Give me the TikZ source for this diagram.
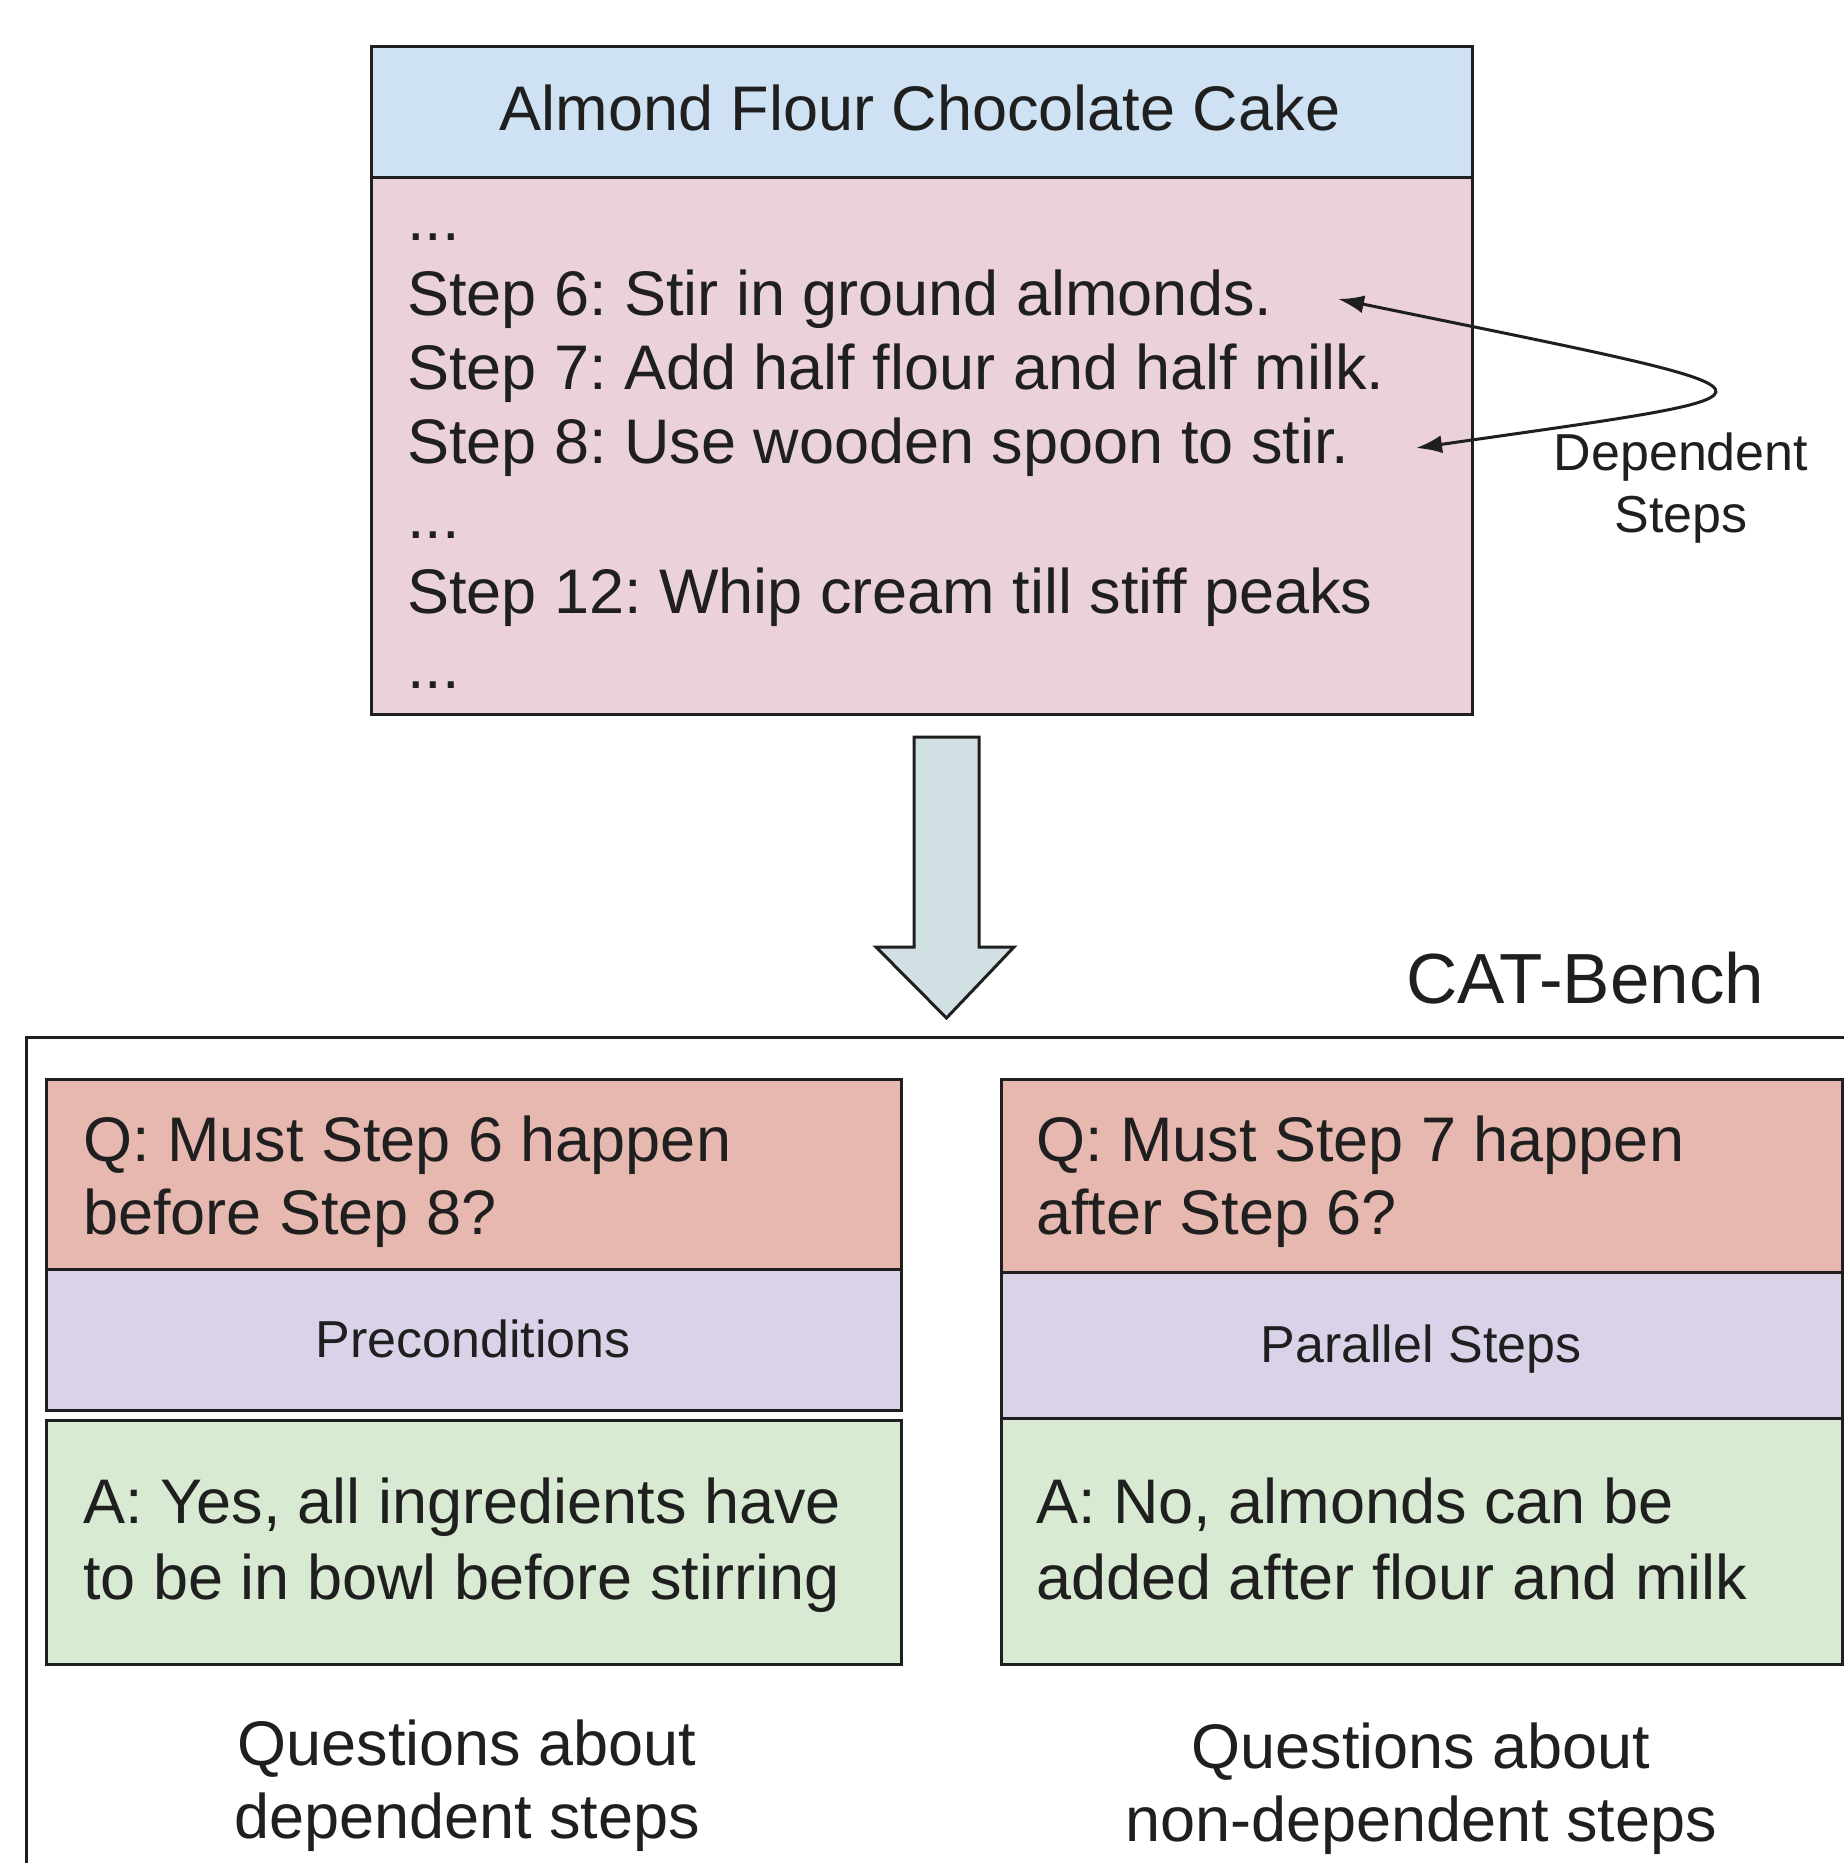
\documentclass[tikz,border=0pt]{standalone}
\usepackage{fontspec}
\setmainfont{Liberation Sans}
\usetikzlibrary{arrows.meta}
\frenchspacing
\definecolor{ink}{HTML}{1F1F1F}
\definecolor{headblue}{HTML}{CFE2F3}
\definecolor{bodypink}{HTML}{EAD1DC}
\definecolor{qred}{HTML}{E6B8AF}
\definecolor{pviolet}{HTML}{D9D2E9}
\definecolor{agreen}{HTML}{D9EAD3}
\definecolor{arrowfill}{HTML}{D0E0E3}
\begin{document}
\frenchspacing
\begin{tikzpicture}[x=1pt,y=-1pt,
  box/.style={draw=ink, line width=3pt, inner sep=0pt, anchor=north west, rectangle},
  txt/.style={anchor=base west, inner sep=0pt, text=ink, font=\fontsize{63}{75}\selectfont},
  ctxt/.style={txt, anchor=base},
  small/.style={anchor=base, inner sep=0pt, text=ink, font=\fontsize{52}{62}\selectfont},
  >={Latex[length=26pt,width=18pt]}]
\useasboundingbox (0,0) rectangle (1844,1863);
\clip (0,0) rectangle (1844,1863);
\fill[white] (0,0) rectangle (1844,1863);

% top recipe box
\node[box, fill=headblue, minimum width=1101pt, minimum height=131pt] (head) at (370,45) {};
\node[box, fill=bodypink, minimum width=1101pt, minimum height=537pt] (body) at (370,176) {};
\node[ctxt] (title) at (920,130) {Almond Flour Chocolate Cake};
\node[txt] (s0) at (407,240) {...};
\node[txt] (s6) at (407,315) {Step 6: Stir in ground almonds.};
\node[txt] (s7) at (407,389) {Step 7: Add half flour and half milk.};
\node[txt] (s8) at (407,463) {Step 8: Use wooden spoon to stir.};
\node[txt] (s9) at (407,538) {...};
\node[txt] (s12) at (407,613) {Step 12: Whip cream till stiff peaks};
\node[txt] (s13) at (407,688) {...};

% dependency curve
\coordinate (tipA) at (1338,299);
\coordinate (tipB) at (1416,448);
\draw[ink, line width=3pt, <->] (tipA) .. controls (1820,398) and (1820,390) .. (tipB);
\node[small] (dep1) at (1681,470) {Dependent};
\node[small] (dep2) at (1681,532) {Steps};

% big down arrow
\draw[ink, fill=arrowfill, line width=3pt, line join=miter]
  (914,737) -- (979,737) -- (979,947) -- (1014,947) -- (946.5,1018) -- (876,947) -- (914,947) -- cycle;

\node[anchor=base west, inner sep=0pt, text=ink, font=\fontsize{71}{85}\selectfont] (cat) at (1406,1003) {CAT-Bench};

% outer frame (open to the right and bottom)
\draw[ink, line width=3pt] (26,1920) -- (26,1037) -- (1920,1037);

% left panel
\node[box, fill=qred, minimum width=855pt, minimum height=190pt] (qL) at (45,1078) {};
\node[box, fill=pviolet, minimum width=855pt, minimum height=141pt] (pL) at (45,1268) {};
\node[box, fill=agreen, minimum width=855pt, minimum height=244pt] (aL) at (45,1419) {};
\node[txt] (qL1) at (83,1161) {Q: Must Step 6 happen};
\node[txt] (qL2) at (83,1234) {before Step 8?};
\node[small] (pLt) at (473,1357) {Preconditions};
\node[txt] (aL1) at (83,1523) {A: Yes, all ingredients have};
\node[txt] (aL2) at (83,1599) {to be in bowl before stirring};
\node[ctxt] (cL1) at (467,1765) {Questions about};
\node[ctxt] (cL2) at (467,1838) {dependent steps};

% right panel
\node[box, fill=qred, minimum width=841pt, minimum height=193pt] (qR) at (1000,1078) {};
\node[box, fill=pviolet, minimum width=841pt, minimum height=146pt] (pR) at (1000,1271) {};
\node[box, fill=agreen, minimum width=841pt, minimum height=246pt] (aR) at (1000,1417) {};
\node[txt] (qR1) at (1036,1161) {Q: Must Step 7 happen};
\node[txt] (qR2) at (1036,1234) {after Step 6?};
\node[small] (pRt) at (1421,1362) {Parallel Steps};
\node[txt] (aR1) at (1036,1523) {A: No, almonds can be};
\node[txt] (aR2) at (1036,1599) {added after flour and milk};
\node[ctxt] (cR1) at (1421,1768) {Questions about};
\node[ctxt] (cR2) at (1421,1841) {non-dependent steps};
\end{tikzpicture}
\end{document}
